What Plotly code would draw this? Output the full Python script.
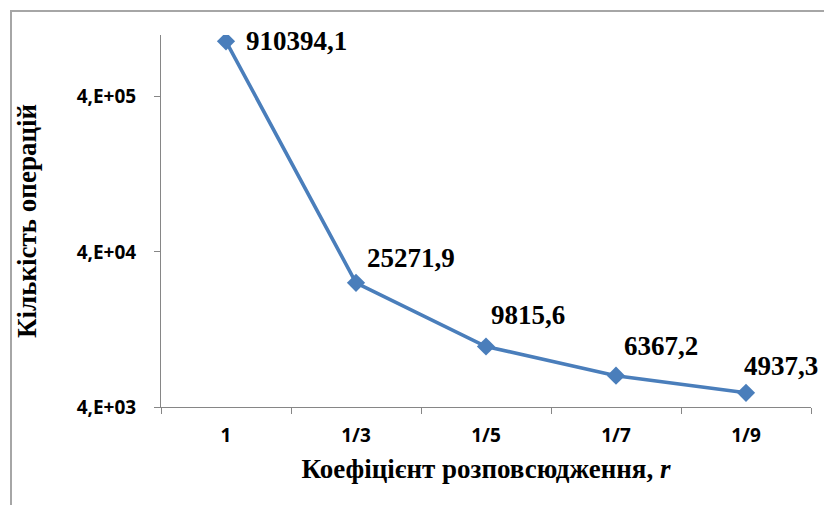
import numpy as np
import plotly.graph_objects as go

categories = ["1", "1/3", "1/5", "1/7", "1/9"]
operations = [910394.1, 25271.9, 9815.6, 6367.2, 4937.3]
value_labels = ["910394,1", "25271,9", "9815,6", "6367,2", "4937,3"]
ytick_vals = [4000, 40000, 400000]
ytick_text = ["4,E+03", "4,E+04", "4,E+05"]

# label offsets (pixels) - styling only
label_dx = [18, 9, 3, 6, -4]
label_dy = [0, 25, 32, 30, 27]

blue = "#4A7EBB"
serif = "Liberation Serif"
sans = "Noto Sans"

fig = go.Figure()
fig.add_trace(go.Scatter(
    x=categories, y=operations, mode="lines+markers",
    line=dict(color=blue, width=3.6),
    marker=dict(symbol="diamond", size=14, color=blue),
    hoverinfo="skip", showlegend=False,
))

for i, (v, t, dx, dy) in enumerate(zip(operations, value_labels, label_dx, label_dy)):
    fig.add_annotation(
        x=i, y=np.log10(v), xref="x", yref="y", text="<b>%s</b>" % t,
        showarrow=False, xanchor="left", yanchor="middle",
        xshift=dx, yshift=dy,
        font=dict(family=serif, size=27, color="black"),
    )

fig.update_layout(
    width=824, height=505,
    margin=dict(l=161, r=13, t=35, b=98),
    paper_bgcolor="white", plot_bgcolor="white",
    xaxis=dict(
        type="category", showgrid=False, zeroline=False,
        showline=True, linecolor="#868686", linewidth=1,
        tickvals=categories, ticktext=["<b>%s</b>" % c for c in categories],
        ticks="outside", tickson="boundaries", ticklen=6, tickcolor="#868686",
        tickfont=dict(family=sans, size=19, color="black"),
        ticklabelstandoff=11,
        title=dict(text="<b>Коефіцієнт розповсюдження, <i>r</i></b>",
                   font=dict(family=serif, size=27, color="black"), standoff=12),
        range=[-0.5, 4.5],
    ),
    yaxis=dict(
        type="log", showgrid=False, zeroline=False,
        showline=True, linecolor="#868686", linewidth=1,
        range=[np.log10(4000), 6.0],
        tickvals=ytick_vals, ticktext=["<b>%s</b>" % t for t in ytick_text],
        ticks="outside", ticklen=6, tickcolor="#868686",
        tickfont=dict(family=sans, size=19, color="black"),
        ticklabelstandoff=14,
        title=dict(text="<b>Кількість операцій</b>",
                   font=dict(family=serif, size=27, color="black"), standoff=32),
    ),
)

fig.add_shape(type="rect", xref="paper", yref="paper",
              x0=(11 - 161) / 650, x1=1.5, y0=-0.5, y1=(407 - 11) / 372,
              line=dict(color="#A6A6A6", width=2), fillcolor="rgba(0,0,0,0)", layer="below")

fig.write_html("out.html")
